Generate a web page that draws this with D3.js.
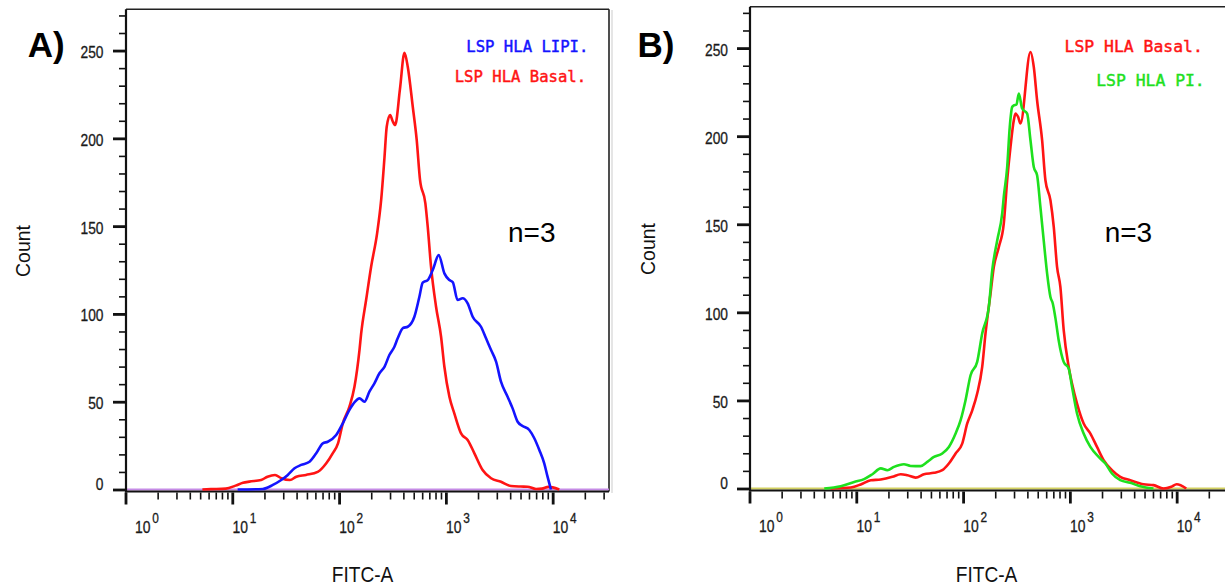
<!DOCTYPE html>
<html><head><meta charset="utf-8">
<script src="https://cdn.jsdelivr.net/npm/d3@7"></script>
<style>body{margin:0;background:#fff}svg{display:block}</style>
</head><body>
<svg id="chart" width="1225" height="586"></svg>
<script>
// ---------------- DATA ----------------
const yMajorTicks = [0, 50, 100, 150, 200, 250];
const yMinorTicks = [0,10,20,30,40,50,60,70,80,90,100,110,120,130,140,150,160,170,180,190,200,210,220,230,240,250,260,270];
const xDecades = [0, 1, 2, 3, 4];
const xMinorMultipliers = [2, 3, 4, 5, 6, 7, 8, 9];
const xAxisTitle = "FITC-A";
const yAxisTitle = "Count";
const panelLabels = ["A)", "B)"];
const noteText = "n=3";
const legendA = ["LSP HLA LIPI.", "LSP HLA Basal."];
const legendB = ["LSP HLA Basal.", "LSP HLA PI."];

// Panel A – Basal (red): log10(FITC-A) and counts
const basalA_exp   = [0.72,0.80,0.94,1.03,1.10,1.16,1.27,1.33,1.40,1.46,1.54,1.60,1.69,1.80,1.88,1.94,1.99,2.035,2.097,2.144,2.191,2.207,2.253,2.300,2.356,2.394,2.425,2.446,2.478,2.500,2.525,2.570,2.612,2.643,2.690,2.727,2.758,2.808,2.830,2.861,2.908,2.955,2.986,3.033,3.079,3.142,3.204,3.267,3.344,3.423,3.516,3.610,3.700,3.765,3.844,3.900,3.960,4.000,4.062];
const basalA_count = [0,0.2,0.5,2.2,3.8,4.5,5.4,7.3,8.3,6.4,5.4,7.3,8.3,10.0,14.9,20.6,26.3,37.7,47.2,58.5,79.4,89,107.9,126.9,145.9,164.9,189,206.6,213.3,210,207.6,228,248.7,240.8,218,199,176.3,163,149.7,126.9,104.1,87,69.9,52.8,43.4,32,28.2,20.6,11.1,6.4,4.4,2,1.7,1.6,0.3,0.5,1.5,1.2,0];

// Panel A – LIPI (blue)
const lipiA_exp   = [1.05,1.286,1.380,1.458,1.520,1.583,1.645,1.723,1.786,1.848,1.894,1.973,2.035,2.097,2.150,2.191,2.238,2.284,2.331,2.378,2.425,2.471,2.518,2.549,2.600,2.643,2.705,2.752,2.783,2.830,2.877,2.933,2.986,3.033,3.065,3.110,3.157,3.204,3.251,3.329,3.376,3.423,3.470,3.516,3.578,3.625,3.672,3.718,3.781,3.828,3.875,3.921,3.952,3.984];
const lipiA_count = [0,0.3,2.6,5.4,8.3,12.1,14,15.8,20.6,26.3,27.2,31,37.7,45.3,50,51.9,50,55.7,60.5,66.2,69.9,76.6,81.3,86.1,92,92.7,98.4,109.8,117.8,119.3,125,133.5,123.1,119.3,118,107.9,108.9,106,98.4,92.7,86.1,79.4,72.8,61.4,52.8,46.2,38.6,36.2,33.9,29.2,22.5,14.9,7.3,0];

// Panel B – Basal (red)
const basalB_exp   = [0.76,0.824,0.949,1.042,1.136,1.229,1.338,1.416,1.479,1.556,1.634,1.727,1.805,1.867,1.930,1.992,2.039,2.086,2.132,2.179,2.210,2.257,2.288,2.335,2.381,2.413,2.444,2.475,2.491,2.515,2.537,2.631,2.662,2.693,2.740,2.771,2.818,2.849,2.880,2.911,2.942,2.989,3.020,3.067,3.129,3.192,3.254,3.316,3.394,3.472,3.565,3.690,3.783,3.877,3.950,4.000,4.090];
const basalB_count = [0,0.2,0.6,2.3,4.7,5.1,6.6,8.1,7.5,6.2,8.1,8.9,10.4,14.2,19.9,25.5,36.9,44.4,53.9,69,88,110.7,125.8,137.1,150.4,175,193.9,209,212.8,211,207.2,247.8,239.3,220.4,197.7,175,163.6,148.5,125.8,114.4,90,69,59.6,48.2,36.9,31.2,23.6,16.1,10.4,6.6,4.7,2.4,1.9,0,1,2.4,0];

// Panel B – PI (green)
const piB_exp   = [0.70,0.855,0.980,1.073,1.151,1.229,1.291,1.353,1.446,1.509,1.602,1.665,1.727,1.805,1.867,1.930,1.977,2.023,2.070,2.132,2.179,2.241,2.273,2.320,2.366,2.381,2.413,2.437,2.460,2.475,2.500,2.522,2.553,2.600,2.631,2.662,2.693,2.724,2.755,2.787,2.818,2.840,2.864,2.895,2.942,2.989,3.020,3.067,3.129,3.192,3.269,3.332,3.394,3.472,3.565,3.659,3.783];
const piB_count = [0,1.3,3.7,5.3,8.1,11.4,10.4,12.3,13.8,12.8,12.7,15.1,17.9,19.9,23.6,31.2,38.8,50.1,64.3,71.9,88,103.1,123.9,140.9,156,165.5,182.5,205.2,216.6,217.5,218,224.2,215.7,212.8,197.7,182.5,177.8,159.8,140.9,122,108.7,105,97,84.2,71.9,68.1,57.7,42.6,31.2,23.6,17.9,14.2,8.5,4.7,3.2,1.3,0];

// ---------------- STYLE / LAYOUT ----------------
const RED = "#ff1414", BLUE = "#1414ff", GREEN = "#1ee01e";
const xMaxExp = 4.52, yMaxVal = 273.5;

const panels = [
  { label: panelLabels[0], legend: legendA,
    series: [
      { exp: basalA_exp, count: basalA_count, color: RED },
      { exp: lipiA_exp, count: lipiA_count, color: BLUE }
    ],
    legendColors: [BLUE, RED],
    L: { xLeft: 125.5, xRight: 608.2, yZero: 489.5, yTop: 9.3, axisX: 126, axisY: 491.5,
         frameRight: 609, yLabelRight: 103.5, countX: 30, countY: 251, fitcX: 362.5,
         labelX: 27.7, legendX: [466.3, 454.7], legendY: [52.3, 82.3], legendFont: 15.6,
         nX: 508, nY: 241.7, baseColor: "#c58be6", grayLine: 612 } },
  { label: panelLabels[1], legend: legendB,
    series: [
      { exp: basalB_exp, count: basalB_count, color: RED },
      { exp: piB_exp, count: piB_count, color: GREEN }
    ],
    legendColors: [RED, GREEN],
    L: { xLeft: 749.5, xRight: 1232.2, yZero: 488.5, yTop: 6.7, axisX: 750, axisY: 490.5,
         frameRight: null, yLabelRight: 728, countX: 655, countY: 249, fitcX: 986.5,
         labelX: 637.5, legendX: [1064.6, 1096.2], legendY: [52.3, 85.7], legendFont: 16.4,
         nX: 1104.7, nY: 241.7, baseColor: "#d2d060", grayLine: null } }
];

const svg = d3.select("#chart");
const SANS = "'Liberation Sans', Arial, sans-serif";
const MONO = "'DejaVu Sans Mono', monospace";

panels.forEach(p => {
  const L = p.L;
  const g = svg.append("g");
  const x = d3.scaleLog().domain([1, Math.pow(10, xMaxExp)]).range([L.xLeft, L.xRight]);
  const y = d3.scaleLinear().domain([0, yMaxVal]).range([L.yZero, L.yTop]);
  const rightEdge = L.frameRight === null ? 1226 : L.frameRight;

  if (L.grayLine) {
    g.append("line").attr("x1", L.grayLine).attr("x2", L.grayLine)
      .attr("y1", 10).attr("y2", 493).attr("stroke", "#dcdcdc").attr("stroke-width", 1.5);
  }

  // frame
  g.append("line").attr("x1", L.axisX).attr("x2", rightEdge).attr("y1", L.yTop).attr("y2", L.yTop)
    .attr("stroke", "#222").attr("stroke-width", 1.6);
  if (L.frameRight !== null) {
    g.append("line").attr("x1", L.frameRight).attr("x2", L.frameRight).attr("y1", L.yTop).attr("y2", L.axisY)
      .attr("stroke", "#222").attr("stroke-width", 1.6);
  }

  // baseline (both histograms at zero)
  g.append("line").attr("x1", L.axisX).attr("x2", rightEdge).attr("y1", y(0)).attr("y2", y(0))
    .attr("stroke", L.baseColor).attr("stroke-width", 2);

  // y axis
  const yAxis = d3.axisLeft(y).tickValues(yMinorTicks).tickSize(7).tickFormat("");
  const ya = g.append("g").attr("transform", `translate(${L.axisX},0)`).call(yAxis);
  ya.select(".domain").remove();
  ya.selectAll(".tick line").attr("stroke", "#111").attr("stroke-width", 1.6);
  ya.selectAll(".tick").filter(d => yMajorTicks.includes(d)).select("line")
    .attr("x2", -13).attr("stroke-width", 2.8);
  g.append("line").attr("x1", L.axisX).attr("x2", L.axisX).attr("y1", L.yTop).attr("y2", L.axisY + 1)
    .attr("stroke", "#111").attr("stroke-width", 2.2);

  // y labels
  yMajorTicks.forEach(v => {
    const by = v === 0 ? y(v) + 0.5 : y(v) + 7.5;
    g.append("text").attr("transform", `translate(${L.yLabelRight},${by}) scale(0.82,1)`)
      .attr("text-anchor", "end").attr("font-family", SANS).attr("font-size", 16.8)
      .attr("fill", "#1a1a1a").attr("stroke", "#1a1a1a").attr("stroke-width", 0.3).text(v);
  });

  // x axis
  const minorVals = [];
  xDecades.forEach(d => xMinorMultipliers.forEach(m => {
    const v = m * Math.pow(10, d);
    if (v < Math.pow(10, xMaxExp)) minorVals.push(v);
  }));
  const majorVals = xDecades.map(d => Math.pow(10, d));
  const xAxisMinor = d3.axisBottom(x).tickValues(minorVals).tickSize(7).tickFormat("");
  const xa = g.append("g").attr("transform", `translate(0,${L.axisY + 1})`).call(xAxisMinor);
  xa.select(".domain").remove();
  xa.selectAll(".tick line").attr("stroke", "#111").attr("stroke-width", 1.6);
  const xAxisMajor = d3.axisBottom(x).tickValues(majorVals).tickSize(12).tickFormat("");
  const xb = g.append("g").attr("transform", `translate(0,${L.axisY + 1})`).call(xAxisMajor);
  xb.select(".domain").remove();
  xb.selectAll(".tick line").attr("stroke", "#111").attr("stroke-width", 2.8);
  g.append("line").attr("x1", L.axisX - 1).attr("x2", rightEdge).attr("y1", L.axisY).attr("y2", L.axisY)
    .attr("stroke", "#111").attr("stroke-width", 2.2);

  // x labels 10^d
  xDecades.forEach(d => {
    const x0 = x(Math.pow(10, d)) + (d === 0 ? 9.5 : 0.2);
    const lg = g.append("g").attr("transform", `translate(${x0},${L.axisY + 41.5}) scale(0.82,1)`)
      .attr("fill", "#1a1a1a").attr("stroke", "#1a1a1a").attr("stroke-width", 0.3);
    lg.append("text").attr("font-family", SANS).attr("font-size", 17).text("10");
    lg.append("text").attr("x", 21).attr("y", -10).attr("font-family", SANS).attr("font-size", 14.5).text(d);
  });

  // axis titles
  g.append("text").attr("transform", `translate(${L.fitcX},581.5) scale(0.89,1)`)
    .attr("text-anchor", "middle").attr("font-family", SANS).attr("font-size", 21.5)
    .attr("fill", "#111").text(xAxisTitle);
  g.append("text").attr("transform", `translate(${L.countX},${L.countY}) rotate(-90)`)
    .attr("text-anchor", "middle").attr("font-family", SANS).attr("font-size", 19.5)
    .attr("fill", "#111").text(yAxisTitle);

  // histograms
  const line = d3.line().x(d => x(Math.pow(10, d[0]))).y(d => y(d[1])).curve(d3.curveMonotoneX);
  p.series.forEach(s => {
    const pts = s.exp.map((e, i) => [e, s.count[i]]);
    g.append("path").datum(pts).attr("d", line).attr("fill", "none")
      .attr("stroke", s.color).attr("stroke-width", 2.6).attr("stroke-linejoin", "round");
  });

  // legend
  p.legend.forEach((t, i) => {
    g.append("text").attr("x", L.legendX[i]).attr("y", L.legendY[i])
      .attr("font-family", MONO).attr("font-size", L.legendFont)
      .attr("fill", p.legendColors[i]).attr("stroke", p.legendColors[i]).attr("stroke-width", 0.45)
      .text(t);
  });

  // note and panel label
  g.append("text").attr("x", L.nX).attr("y", L.nY).attr("font-family", SANS)
    .attr("font-size", 28).attr("fill", "#000").text(noteText);
  g.append("text").attr("x", L.labelX).attr("y", 57).attr("font-family", SANS)
    .attr("font-size", 35).attr("font-weight", "bold").attr("fill", "#000").text(p.label);
});
</script>
</body></html>
